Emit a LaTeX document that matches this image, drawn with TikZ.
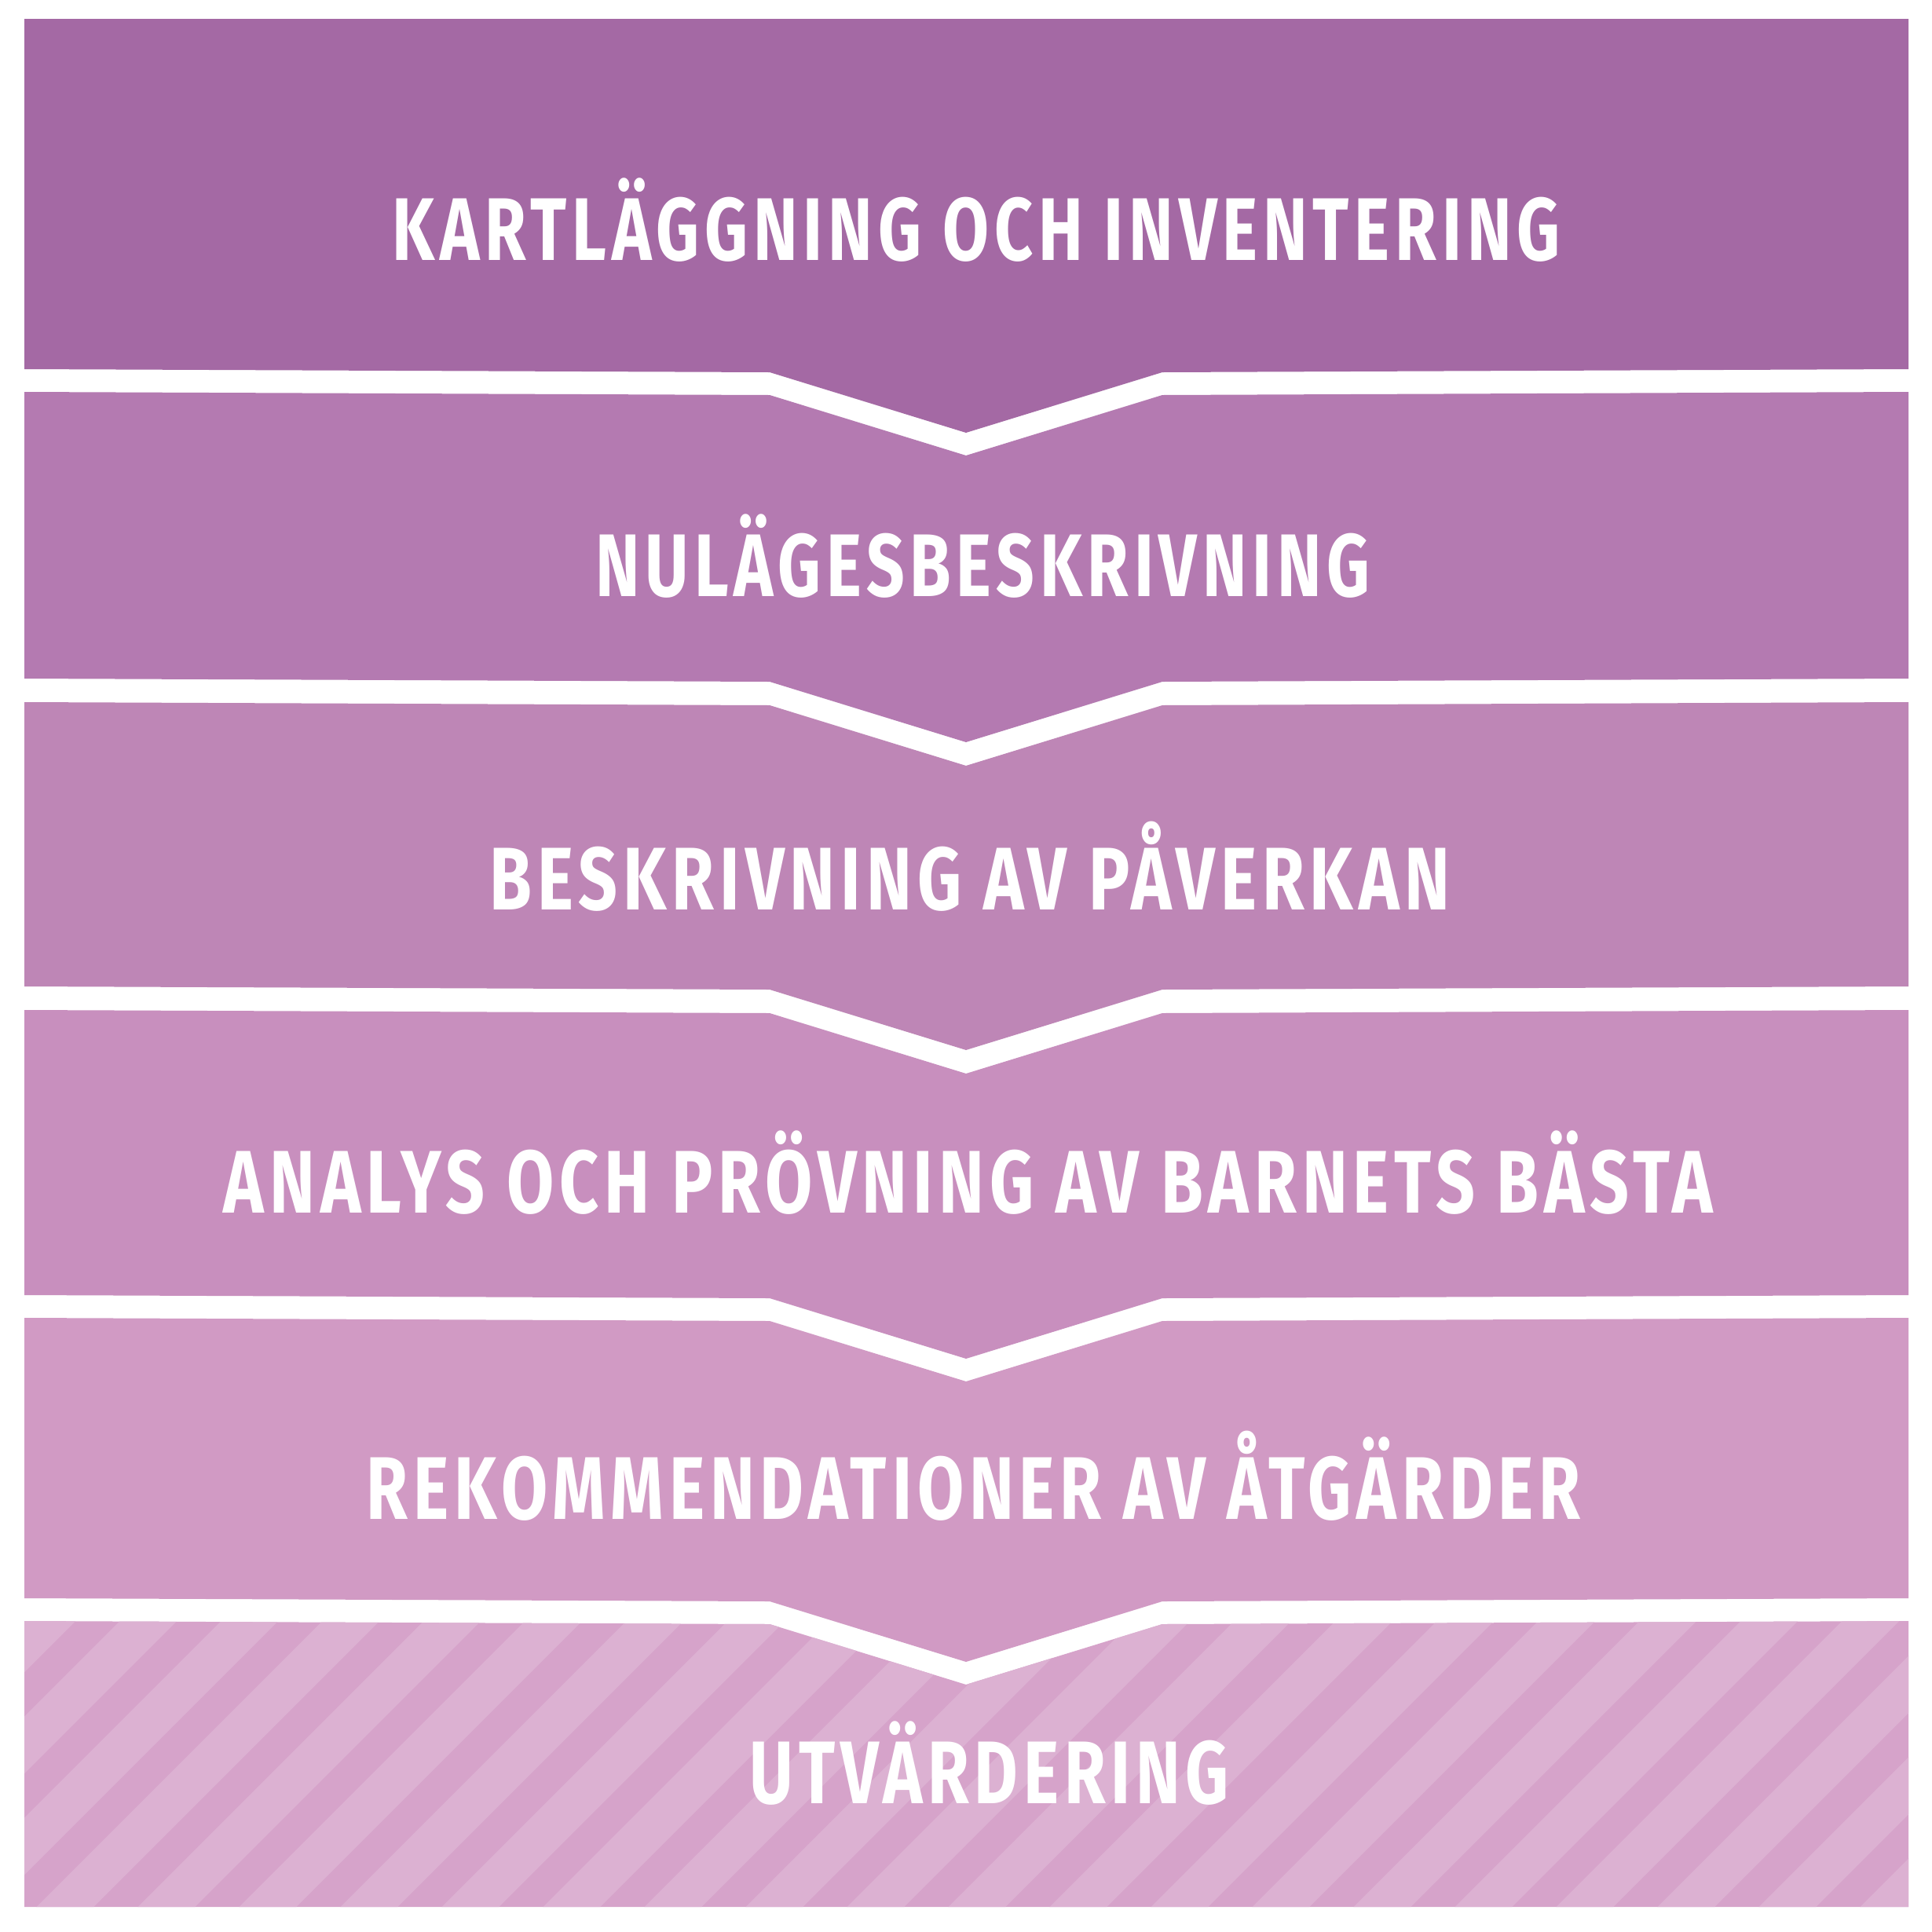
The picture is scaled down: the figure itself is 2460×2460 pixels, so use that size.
\documentclass[tikz,border=0pt]{standalone}
\usepackage{fontspec}
\usepackage{graphicx}
\newfontfamily\stepfont[LetterSpace=8]{Fira Sans}

\definecolor{bandone}{RGB}{164,105,164}
\definecolor{bandtwo}{RGB}{180,122,177}
\definecolor{bandthree}{RGB}{190,134,182}
\definecolor{bandfour}{RGB}{200,143,190}
\definecolor{bandfive}{RGB}{209,154,196}
\definecolor{bandsix}{RGB}{214,163,202}
\definecolor{stripelight}{RGB}{220,177,210}

\tikzset{
  steplabel/.style={anchor=base west, inner sep=0pt, text=white,
    font=\stepfont\bfseries\fontsize{32.2}{36}\selectfont},
  stripe/.style={draw=stripelight, line width=0.515cm},
}

% chevron edges of a band (left y given)
\newcommand{\topedge}[1]{(31,#1) -- (980,#1+4) -- (1230,#1+81) -- (1480,#1+4) -- (2430,#1)}
\newcommand{\botedge}[1]{(2430,#1) -- (1480,#1+4) -- (1230,#1+81) -- (980,#1+4) -- (31,#1)}

\begin{document}
\begin{tikzpicture}[x=0.01cm, y=-0.01cm]
    \fill[white] (0,0) rectangle (2460,2460);

    % Bands
    \fill[bandone] (31,24) -- (2430,24) -- \botedge{470} -- cycle;
    \fill[bandtwo] \topedge{499} -- \botedge{864} -- cycle;
    \fill[bandthree] \topedge{894} -- \botedge{1256} -- cycle;
    \fill[bandfour] \topedge{1286} -- \botedge{1649} -- cycle;
    \fill[bandfive] \topedge{1678} -- \botedge{2035} -- cycle;

    % Last band, striped
    \begin{scope}
        \clip \topedge{2064} -- (2430,2428) -- (31,2428) -- cycle;
        \fill[bandsix] (0,2000) rectangle (2460,2460);
        \foreach \k in {0,...,22} {
            \pgfmathsetmacro{\c}{2124+129*\k}
            \draw[stripe] (-100,\c+100) -- (2560,\c-2560);
        }
    \end{scope}

    % Step labels
    \node[steplabel] (kart) at (499,331) {\resizebox{14.86cm}{\height}{KARTLÄGGNING OCH INVENTERING}};
    \node[steplabel] (nulage) at (758,759) {\resizebox{9.85cm}{\height}{NULÄGESBESKRIVNING}};
    \node[steplabel] (paverkan) at (623,1158) {\resizebox{12.22cm}{\height}{BESKRIVNING AV PÅVERKAN}};
    \node[steplabel] (analys) at (284,1544) {\resizebox{18.95cm}{\height}{ANALYS OCH PRÖVNING AV BARNETS BÄSTA}};
    \node[steplabel] (rekom) at (466,1934) {\resizebox{15.45cm}{\height}{REKOMMENDATIONER AV ÅTGÄRDER}};
    \node[steplabel] (utvard) at (954,2296) {\resizebox{6.10cm}{\height}{UTVÄRDERING}};
\end{tikzpicture}
\end{document}
